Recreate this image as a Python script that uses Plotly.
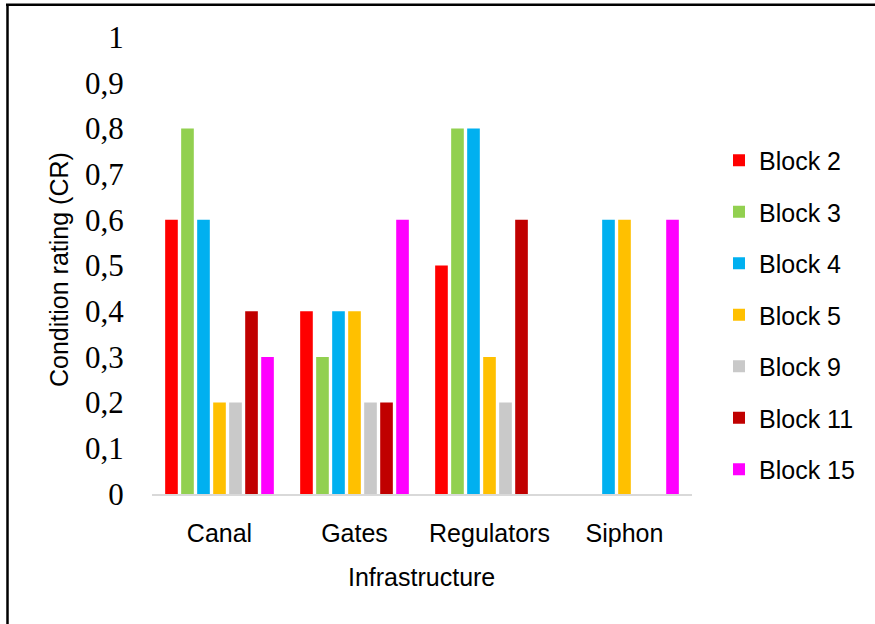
import plotly.graph_objects as go

# Infrastructure condition ratings per irrigation block
categories = ["Canal", "Gates", "Regulators", "Siphon"]
blocks = ["Block 2", "Block 3", "Block 4", "Block 5", "Block 9", "Block 11", "Block 15"]
block_2 = [0.6, 0.4, 0.5, None]
block_3 = [0.8, 0.3, 0.8, None]
block_4 = [0.6, 0.4, 0.8, 0.6]
block_5 = [0.2, 0.4, 0.3, 0.6]
block_9 = [0.2, 0.2, 0.2, None]
block_11 = [0.4, 0.2, 0.6, None]
block_15 = [0.3, 0.6, None, 0.6]
series = [block_2, block_3, block_4, block_5, block_9, block_11, block_15]
colors = ["#FF0000", "#92D050", "#00B0F0", "#FFC000", "#C9C9C9", "#C00000", "#FF00FF"]

y_ticks = [0, 0.1, 0.2, 0.3, 0.4, 0.5, 0.6, 0.7, 0.8, 0.9, 1]
y_tick_text = ["0", "0,1", "0,2", "0,3", "0,4", "0,5", "0,6", "0,7", "0,8", "0,9", "1"]

SANS = "Liberation Sans, Arial, sans-serif"
SERIF = "Liberation Serif, Times New Roman, serif"

W, H = 875, 624
ML, MR, MT, MB = 152, 183, 37, 130
PW, PH = W - ML - MR, H - MT - MB


def px_x(p):
    return (p - ML) / PW


def px_y(p):
    return (H - MB - p) / PH


fig = go.Figure()
for name, vals, col in zip(blocks, series, colors):
    fig.add_trace(go.Bar(
        x=categories, y=vals, name=name, legendgroup=name,
        marker=dict(color=col, line=dict(width=0)),
    ))

fig.update_layout(
    width=W, height=H,
    margin=dict(l=ML, r=MR, t=MT, b=MB),
    paper_bgcolor="white", plot_bgcolor="white",
    barmode="group", bargap=0.17, bargroupgap=0.21,
    font=dict(family=SANS, size=25, color="black"),
    showlegend=True,
    legend=dict(
        x=px_x(719), xanchor="left",
        y=px_y(315), yanchor="middle",
        font=dict(family=SANS, size=25, color="black"),
        tracegroupgap=16, bgcolor="rgba(0,0,0,0)",
    ),
    xaxis=dict(
        range=[-0.5, 3.5], showline=True, linecolor="#D9D9D9", linewidth=2,
        showgrid=False, zeroline=False, ticks="outside", ticklen=16,
        tickcolor="rgba(0,0,0,0)", tickfont=dict(family=SANS, size=25),
    ),
    yaxis=dict(
        range=[0, 1], tickvals=y_ticks, ticktext=y_tick_text,
        showgrid=False, zeroline=False, showline=False,
        ticks="outside", ticklen=21, tickcolor="rgba(0,0,0,0)",
        tickfont=dict(family=SERIF, size=31),
    ),
    annotations=[
        dict(text="Condition rating (CR)", textangle=-90, xref="paper", yref="paper",
             x=px_x(59), y=px_y(270), xanchor="center", yanchor="middle",
             showarrow=False, font=dict(family=SANS, size=25)),
        dict(text="Infrastructure", xref="paper", yref="paper",
             x=px_x(421), y=px_y(577), xanchor="center", yanchor="middle",
             showarrow=False, font=dict(family=SANS, size=25)),
    ],
    shapes=[
        dict(type="line", xref="paper", yref="paper",
             x0=px_x(7.5), x1=px_x(7.5), y0=px_y(4), y1=px_y(H + 10),
             line=dict(color="black", width=2.5)),
        dict(type="line", xref="paper", yref="paper",
             x0=px_x(6), x1=px_x(W + 10), y0=px_y(4.8), y1=px_y(4.8),
             line=dict(color="black", width=2.5)),
    ],
)

fig.write_html("out.html")
